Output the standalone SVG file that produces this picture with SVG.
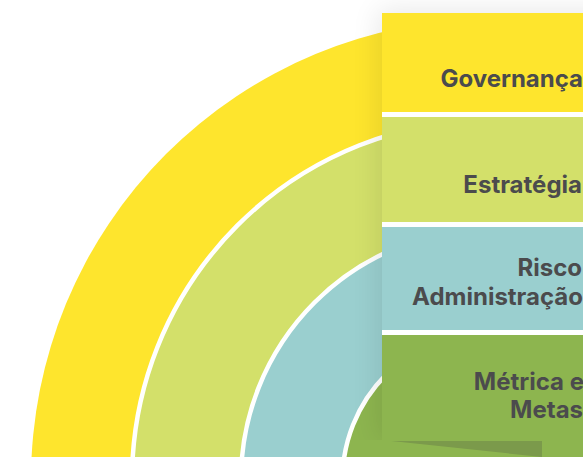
<svg xmlns="http://www.w3.org/2000/svg" width="583" height="457" viewBox="0 0 583 457">
  <defs>
    <style>
      .lbl { font-family: Inter, "Noto Sans", "Liberation Sans", sans-serif; font-weight: 700; font-size: 24px; fill: #4b4b4d; text-anchor: end; }
      .sep { stroke: #ffffff; stroke-width: 4.5; }
    </style>
    <filter id="shadow" x="-20%" y="-20%" width="140%" height="140%">
      <feGaussianBlur stdDeviation="14"/>
    </filter>
    <clipPath id="clipTop">
      <rect x="0" y="0" width="583" height="440"/>
    </clipPath>
  </defs>
  <rect x="0" y="0" width="583" height="457" fill="#ffffff"/>

  <g id="rings">
    <circle id="ring-governanca" cx="492" cy="480" r="461" fill="#fee52d"/>
    <circle id="ring-estrategia" class="sep" cx="492" cy="480" r="360" fill="#d3e06a" stroke-width="5"/>
    <circle id="ring-risco" class="sep" cx="492" cy="480" r="251" fill="#9acfcf"/>
    <circle id="ring-metricas" class="sep" cx="492" cy="480" r="149.5" fill="#8db54f"/>
  </g>

  <g id="panel-shadow" clip-path="url(#clipTop)">
    <rect x="378" y="10" width="260" height="430" fill="#000000" opacity="0.09" filter="url(#shadow)"/>
  </g>

  <g id="connectors">
    <polygon points="382,440 542,440 542,457" fill="#7b9a4b"/>
  </g>

  <rect x="382" y="13" width="210" height="428" fill="#ffffff"/>

  <g id="node-governanca">
    <rect x="382" y="13" width="210" height="99" fill="#fee52d"/>
    <text class="lbl" x="583" y="87">Governança</text>
  </g>
  <g id="node-estrategia">
    <rect x="382" y="117" width="210" height="105" fill="#d3e06a"/>
    <text class="lbl" x="582" y="193">Estratégia</text>
  </g>
  <g id="node-risco">
    <rect x="382" y="227" width="210" height="103" fill="#9acfcf"/>
    <text class="lbl" x="582" y="276">Risco</text>
    <text class="lbl" x="583" y="305">Administração</text>
  </g>
  <g id="node-metricas">
    <rect x="382" y="335" width="210" height="106" fill="#8db54f"/>
    <text class="lbl" x="584" y="390">Métrica e</text>
    <text class="lbl" x="583" y="418">Metas</text>
  </g>
</svg>
